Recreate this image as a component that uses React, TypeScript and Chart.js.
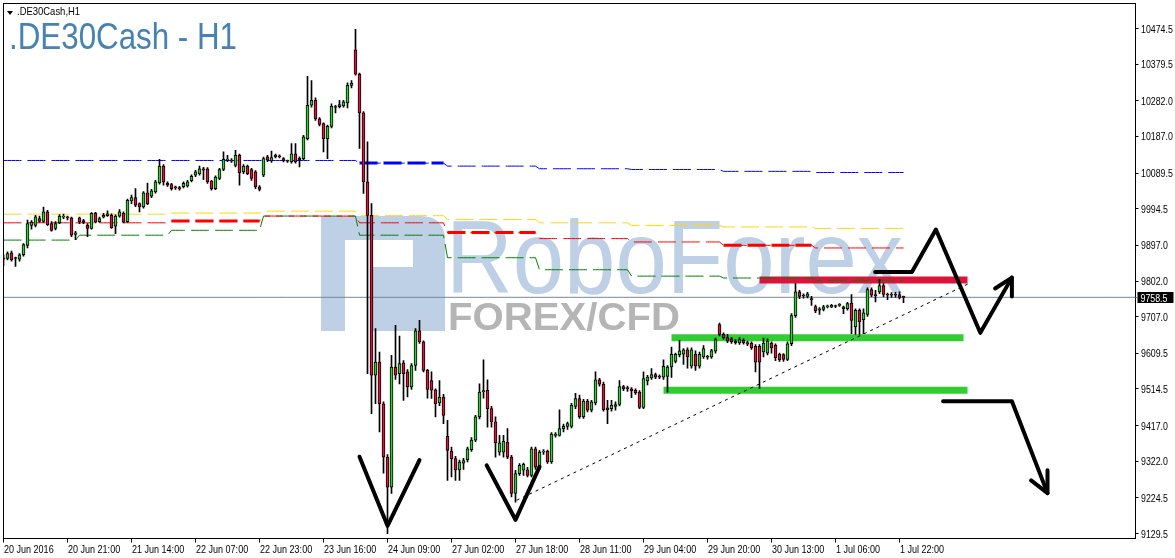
import { useEffect, useRef } from 'react';
import { Chart, registerables } from 'chart.js';

Chart.register(...registerables);

// ---------- data ----------
const opens = [
  9860, 9862, 9877, 9864, 9860, 9872, 9897, 9950, 9950, 9968,
  9961, 9986, 9955, 9942, 9957, 9972, 9971, 9970, 9926, 9970,
  9963, 9950, 9942, 9983, 9960, 9972, 9976, 9977, 9948, 9975,
  9983, 9960, 10015, 10024, 10008, 9999, 10037, 10028, 10039, 10063,
  10108, 10063, 10059, 10053, 10050, 10053, 10055, 10069, 10084, 10088,
  10101, 10101, 10068, 10048, 10075, 10099, 10124, 10124, 10110, 10137,
  10093, 10108, 10099, 10093, 10053, 10084, 10133, 10122, 10133, 10135,
  10128, 10122, 10119, 10141, 10129, 10128, 10181, 10270, 10283, 10234,
  10221, 10181, 10214, 10264, 10266, 10268, 10276, 10323, 10418, 10353,
  10250, 10066, 9977, 9551, 9586, 9475, 9333, 9253, 9573, 9555,
  9584, 9560, 9520, 9577, 9669, 9640, 9564, 9537, 9512, 9477,
  9493, 9388, 9349, 9329, 9299, 9317, 9326, 9353, 9378, 9440,
  9507, 9511, 9462, 9427, 9346, 9346, 9373, 9333, 9236, 9289,
  9298, 9299, 9284, 9355, 9304, 9346, 9349, 9320, 9391, 9391,
  9409, 9415, 9415, 9468, 9489, 9440, 9482, 9458, 9477, 9539,
  9527, 9464, 9462, 9468, 9473, 9521, 9518, 9515, 9511, 9506,
  9465, 9536, 9544, 9553, 9548, 9546, 9548, 9573, 9588, 9606,
  9607, 9619, 9575, 9607, 9575, 9600, 9600, 9600, 9615, 9686,
  9660, 9651, 9648, 9642, 9637, 9644, 9638, 9637, 9628, 9628,
  9613, 9610, 9637, 9631, 9607, 9606, 9593, 9635, 9710, 9773,
  9764, 9761, 9755, 9734, 9724, 9726, 9733, 9733, 9734, 9737,
  9733, 9728, 9743, 9680, 9724, 9699, 9713, 9779, 9764, 9773,
  9790, 9766, 9764, 9766, 9766, 9759,
];
const highs = [
  9872, 9880, 9882, 9866, 9875, 9902, 9964, 9963, 9977, 9975,
  9999, 9990, 9960, 9960, 9979, 9980, 9975, 9972, 9934, 9972,
  9966, 9955, 9984, 9985, 9972, 9982, 9989, 9981, 9978, 9992,
  9986, 10020, 10031, 10048, 10010, 10040, 10063, 10046, 10070, 10126,
  10112, 10066, 10062, 10055, 10054, 10066, 10070, 10085, 10097, 10108,
  10105, 10104, 10070, 10082, 10102, 10146, 10137, 10128, 10150, 10140,
  10112, 10111, 10102, 10096, 10056, 10132, 10137, 10148, 10140, 10138,
  10131, 10124, 10168, 10168, 10133, 10190, 10347, 10336, 10290, 10237,
  10223, 10217, 10274, 10270, 10283, 10283, 10330, 10336, 10472, 10356,
  10253, 10173, 10008, 9675, 9613, 9480, 9340, 9604, 9684, 9655,
  9590, 9566, 9582, 9675, 9697, 9643, 9567, 9560, 9515, 9537,
  9500, 9431, 9360, 9335, 9325, 9330, 9360, 9385, 9444, 9528,
  9592, 9539, 9468, 9440, 9391, 9391, 9409, 9338, 9298, 9316,
  9317, 9306, 9360, 9360, 9351, 9353, 9352, 9398, 9398, 9459,
  9421, 9426, 9476, 9503, 9498, 9487, 9487, 9484, 9560, 9543,
  9533, 9484, 9484, 9480, 9537, 9524, 9522, 9518, 9515, 9510,
  9560, 9551, 9569, 9557, 9552, 9592, 9577, 9626, 9610, 9644,
  9622, 9624, 9624, 9616, 9613, 9630, 9604, 9620, 9650, 9690,
  9664, 9660, 9652, 9646, 9651, 9648, 9642, 9640, 9633, 9633,
  9650, 9648, 9640, 9635, 9610, 9609, 9640, 9715, 9795, 9777,
  9768, 9772, 9761, 9738, 9731, 9737, 9738, 9740, 9738, 9742,
  9735, 9745, 9766, 9728, 9728, 9728, 9784, 9784, 9777, 9806,
  9795, 9770, 9771, 9772, 9773, 9762,
];
const lows = [
  9843, 9858, 9855, 9841, 9855, 9868, 9890, 9940, 9946, 9958,
  9958, 9950, 9935, 9938, 9955, 9968, 9965, 9920, 9912, 9955,
  9955, 9920, 9940, 9957, 9958, 9970, 9974, 9942, 9928, 9972,
  9957, 9958, 10008, 10000, 9986, 9996, 10005, 10024, 10036, 10060,
  10057, 10054, 10044, 10046, 10044, 10050, 10052, 10066, 10080, 10084,
  10072, 10062, 10044, 10045, 10072, 10096, 10120, 10118, 10106, 10057,
  10088, 10085, 10070, 10048, 10042, 10080, 10120, 10118, 10130, 10130,
  10119, 10118, 10116, 10116, 10106, 10125, 10178, 10265, 10230, 10215,
  10146, 10128, 10210, 10250, 10263, 10265, 10263, 10316, 10350, 10155,
  10035, 9555, 9449, 9475, 9400, 9290, 9129, 9236, 9540, 9528,
  9484, 9493, 9513, 9564, 9636, 9560, 9490, 9489, 9440, 9470,
  9422, 9271, 9280, 9271, 9271, 9300, 9320, 9348, 9374, 9435,
  9490, 9413, 9413, 9333, 9338, 9333, 9329, 9227, 9213, 9284,
  9284, 9280, 9280, 9300, 9300, 9340, 9316, 9316, 9386, 9389,
  9400, 9407, 9411, 9462, 9436, 9436, 9453, 9453, 9472, 9522,
  9455, 9422, 9455, 9458, 9469, 9510, 9508, 9491, 9500, 9462,
  9462, 9525, 9540, 9542, 9542, 9540, 9506, 9545, 9584, 9600,
  9580, 9570, 9570, 9564, 9570, 9596, 9594, 9596, 9610, 9656,
  9647, 9638, 9636, 9634, 9633, 9634, 9630, 9620, 9560, 9515,
  9600, 9605, 9610, 9590, 9588, 9588, 9590, 9630, 9705, 9755,
  9756, 9757, 9737, 9718, 9713, 9722, 9730, 9731, 9731, 9734,
  9715, 9724, 9662, 9660, 9660, 9662, 9708, 9760, 9746, 9768,
  9760, 9752, 9758, 9758, 9754, 9744,
];
const closes = [
  9864, 9875, 9859, 9862, 9872, 9899, 9955, 9959, 9973, 9961,
  9986, 9952, 9937, 9955, 9975, 9975, 9970, 9924, 9930, 9960,
  9958, 9942, 9982, 9959, 9968, 9977, 9981, 9944, 9975, 9986,
  9959, 10017, 10024, 10004, 9999, 10037, 10008, 10042, 10066, 10108,
  10066, 10057, 10048, 10050, 10048, 10062, 10066, 10081, 10093, 10101,
  10097, 10066, 10048, 10079, 10099, 10126, 10126, 10121, 10137, 10090,
  10108, 10088, 10075, 10053, 10046, 10128, 10124, 10131, 10137, 10133,
  10124, 10121, 10141, 10119, 10125, 10186, 10270, 10283, 10234, 10219,
  10181, 10214, 10267, 10266, 10272, 10279, 10323, 10329, 10353, 10250,
  10066, 9977, 9551, 9586, 9475, 9333, 9253, 9573, 9551, 9582,
  9555, 9520, 9577, 9669, 9640, 9564, 9513, 9511, 9475, 9493,
  9444, 9351, 9329, 9299, 9320, 9324, 9355, 9378, 9440, 9506,
  9510, 9462, 9427, 9371, 9371, 9375, 9333, 9236, 9289, 9311,
  9314, 9284, 9355, 9306, 9346, 9349, 9320, 9394, 9393, 9409,
  9415, 9422, 9471, 9489, 9440, 9482, 9458, 9480, 9539, 9527,
  9459, 9459, 9471, 9473, 9521, 9515, 9515, 9509, 9504, 9465,
  9542, 9546, 9553, 9546, 9546, 9575, 9573, 9607, 9607, 9616,
  9619, 9600, 9619, 9575, 9607, 9622, 9599, 9617, 9646, 9660,
  9651, 9642, 9640, 9637, 9646, 9637, 9634, 9624, 9586, 9586,
  9637, 9642, 9624, 9598, 9592, 9593, 9635, 9710, 9773, 9761,
  9762, 9768, 9752, 9722, 9728, 9733, 9735, 9737, 9735, 9739,
  9728, 9742, 9697, 9724, 9693, 9717, 9779, 9764, 9763, 9790,
  9766, 9764, 9766, 9764, 9758, 9758.5,
];

const xTickBars = [0, 16, 32, 48, 64, 80, 96, 112, 128, 144, 160, 176, 192, 208, 224];
const xTickLabels = [
  '20 Jun 2016', '20 Jun 21:00', '21 Jun 14:00', '22 Jun 07:00', '22 Jun 23:00',
  '23 Jun 16:00', '24 Jun 09:00', '27 Jun 02:00', '27 Jun 18:00', '28 Jun 11:00',
  '29 Jun 04:00', '29 Jun 20:00', '30 Jun 13:00', '1 Jul 06:00', '1 Jul 22:00',
];
const yTicks = [
  10474.5, 10379.5, 10282.0, 10187.0, 10089.5, 9994.5, 9897.0, 9802.0,
  9707.0, 9609.5, 9514.5, 9417.0, 9322.0, 9224.5, 9129.5,
];
const lastPrice = 9758.5;

// daily indicator levels (one value per trading day)
const dayStarts = [0, 19, 42, 65, 89, 111, 134, 157, 180, 203];
const blueLevels = [10123, 10123, 10123, 10123, 10116, 10108, 10101, 10099, 10094, 10091];
const yellowLevels = [9980, 9980, 9983, 9988, 9976, 9966, 9957, 9950, 9946, 9942];
const redLevels = [9957, 9957, 9962, 9975, 9957, 9931, 9915, 9906, 9897, 9890];
const greenLevels = [9911, 9924, 9937, 9975, 9924, 9864, 9832, 9815, 9810, 9804];
const thickBlueDays = [4];
const thickRedDays = [2, 5, 8];

// hand-drawn analysis objects: [bar, price]
const supportUpper = [[167, 9651], [240, 9651]];
const supportLower = [[165, 9511], [241, 9511]];
const resistance = [[189, 9805], [241, 9805]];
const trendLine = [[128.3, 9218], [241.3, 9795]];
const vLeft = [[89, 9334], [96, 9150], [104, 9325]];
const vRight = [[120.8, 9311], [128, 9166], [134, 9307]];
const zigzag = [[217.9, 9826], [227.1, 9826], [233.1, 9939], [244.2, 9664], [252.1, 9811]];
const zigzagHead = [[247.9, 9782], [252.1, 9811], [252.1, 9761]];
const dropPath = [[234.9, 9482], [252.1, 9482], [261, 9237]];
const dropHead = [[256.9, 9271], [261, 9237], [261, 9298]];

// ---------- styling ----------
const FONT = "'Liberation Sans', Arial, sans-serif";
const BULL = '#32CD32';
const BEAR = '#DC143C';
const Y_MAX = 10541.1;
const Y_MIN = 9116.2;
const X_MAX = 283;

const pts = (arr: number[][]) => arr.map(([x, y]) => ({ x, y }));

function levelSeries(levels: number[]) {
  const out: { x: number; y: number }[] = [];
  for (let i = 0; i < opens.length; i++) {
    let d = 0;
    while (d + 1 < dayStarts.length && dayStarts[d + 1] <= i) d++;
    out.push({ x: i, y: levels[d] });
  }
  return out;
}
function daySeries(levels: number[], d: number) {
  const end = d + 1 < dayStarts.length ? dayStarts[d + 1] - 1 : opens.length - 1;
  const out: { x: number; y: number }[] = [];
  for (let i = dayStarts[d]; i <= end; i++) out.push({ x: i, y: levels[d] });
  return out;
}

const lineDS = (data: any[], color: string, width: number, dash: number[], order: number, extra: any = {}) => ({
  type: 'line' as const,
  data,
  borderColor: color,
  backgroundColor: color,
  borderWidth: width,
  borderDash: dash,
  pointRadius: 0,
  pointHoverRadius: 0,
  fill: false,
  tension: 0,
  order,
  ...extra,
});

function narrowText(ctx: CanvasRenderingContext2D, text: string, x: number, y: number, sx: number) {
  ctx.save();
  ctx.translate(x, y);
  ctx.scale(sx, 1);
  ctx.fillText(text, 0, 0);
  ctx.restore();
}

const watermarkPlugin = {
  id: 'watermark',
  beforeDatasetsDraw(chart: any) {
    const ctx = chart.ctx as CanvasRenderingContext2D;
    ctx.save();
    const blue = '#bdd0e5';
    ctx.fillStyle = blue;
    ctx.beginPath();
    ctx.moveTo(321, 216);
    ctx.lineTo(420, 216);
    ctx.quadraticCurveTo(445, 216, 445, 241);
    ctx.lineTo(445, 331);
    ctx.lineTo(321, 331);
    ctx.closePath();
    ctx.fill();
    ctx.fillStyle = '#ffffff';
    ctx.fillRect(345, 240, 68, 27);
    ctx.fillRect(345, 267, 27, 64);
    ctx.fillStyle = blue;
    ctx.font = "104px 'Liberation Sans', Arial, sans-serif";
    ctx.textBaseline = 'alphabetic';
    let t = 'RoboForex';
    let w = ctx.measureText(t).width;
    narrowText(ctx, t, 446, 293, 457 / w);
    ctx.fillStyle = '#b5b5b5';
    ctx.font = "bold 39px 'Liberation Sans', Arial, sans-serif";
    t = 'FOREX/CFD';
    w = ctx.measureText(t).width;
    narrowText(ctx, t, 448, 330, 232 / w);
    ctx.restore();
  },
};

const framePlugin = {
  id: 'frame',
  afterDatasetsDraw(chart: any) {
    const { ctx, chartArea: a } = chart;
    ctx.save();
    ctx.strokeStyle = '#000';
    ctx.lineWidth = 1;
    ctx.strokeRect(a.left, a.top, a.right - a.left, a.bottom - a.top);
    ctx.restore();
  },
};

const axisLabelPlugin = {
  id: 'axisLabels',
  afterDraw(chart: any) {
    const ctx = chart.ctx as CanvasRenderingContext2D;
    const xs = chart.scales.x;
    const ys = chart.scales.y;
    const a = chart.chartArea;
    ctx.save();
    ctx.fillStyle = '#000';
    ctx.font = `11px ${FONT}`;
    ctx.textBaseline = 'alphabetic';
    ctx.textAlign = 'left';
    xTickBars.forEach((b, k) => {
      narrowText(ctx, xTickLabels[k], xs.getPixelForValue(b) + 0.5, 553, 0.82);
    });
    yTicks.forEach((v) => {
      narrowText(ctx, v.toFixed(1), a.right + 5.5, ys.getPixelForValue(v) + 4, 0.8);
    });
    ctx.restore();
  },
};

const priceLabelPlugin = {
  id: 'priceLabel',
  afterDraw(chart: any) {
    const ctx = chart.ctx as CanvasRenderingContext2D;
    const a = chart.chartArea;
    const y = chart.scales.y.getPixelForValue(lastPrice);
    const yy = Math.round(y);
    ctx.save();
    ctx.strokeStyle = '#778899';
    ctx.lineWidth = 1;
    ctx.beginPath();
    ctx.moveTo(a.right, yy + 0.5);
    ctx.lineTo(a.right + 2, yy + 0.5);
    ctx.stroke();
    ctx.fillStyle = '#000';
    ctx.fillRect(a.right + 2, yy - 5, 36, 11);
    ctx.fillStyle = '#fff';
    ctx.font = `11px ${FONT}`;
    ctx.textBaseline = 'alphabetic';
    ctx.textAlign = 'left';
    narrowText(ctx, lastPrice.toFixed(1), a.right + 5, yy + 4.5, 0.8);
    ctx.restore();
  },
};

export default function App() {
  const ref = useRef<HTMLCanvasElement>(null);

  useEffect(() => {
    const canvas = ref.current;
    if (!canvas) return;

    const wicks = opens.map((_, i) => ({ x: i, y: [lows[i], highs[i]] }));
    const bodies = opens.map((o, i) => ({ x: i, y: [o, closes[i]] }));
    const bodyColors = opens.map((o, i) => (closes[i] >= o ? BULL : BEAR));
    const arrowStyle = { borderJoinStyle: 'round', borderCapStyle: 'round' };

    const datasets: any[] = [
      lineDS([{ x: 0, y: lastPrice }, { x: X_MAX, y: lastPrice }], '#778899', 1, [], 100),
      lineDS(pts(supportUpper), BULL, 7, [], 96, { borderCapStyle: 'butt' }),
      lineDS(pts(supportLower), BULL, 7, [], 96, { borderCapStyle: 'butt' }),
      lineDS(pts(resistance), BEAR, 7, [], 96, { borderCapStyle: 'butt' }),
      lineDS(levelSeries(blueLevels), '#0000ff', 1, [18, 6], 90),
      lineDS(levelSeries(yellowLevels), '#ffd700', 1, [18, 6], 90),
      lineDS(levelSeries(redLevels), '#ff0000', 1, [18, 6], 90),
      lineDS(levelSeries(greenLevels), '#008000', 1, [18, 6], 90),
      ...thickBlueDays.map((d) => lineDS(daySeries(blueLevels, d), '#0000ff', 3, [18, 6], 88)),
      ...thickRedDays.map((d) => lineDS(daySeries(redLevels, d), '#ff0000', 3, [18, 6], 88)),
      {
        type: 'bar',
        data: wicks,
        backgroundColor: '#000',
        borderWidth: 0,
        barThickness: 1,
        grouped: false,
        order: 50,
      },
      {
        type: 'bar',
        data: bodies,
        backgroundColor: bodyColors,
        borderColor: '#000',
        borderWidth: 1,
        borderSkipped: false,
        barThickness: 3,
        minBarLength: 1,
        grouped: false,
        order: 40,
      },
      lineDS(pts(trendLine), '#000', 1, [3, 4], 20),
      lineDS(pts(vLeft), '#000', 4, [], 10, arrowStyle),
      lineDS(pts(vRight), '#000', 4, [], 10, arrowStyle),
      lineDS(pts(zigzag), '#000', 4, [], 10, arrowStyle),
      lineDS(pts(zigzagHead), '#000', 4, [], 10, arrowStyle),
      lineDS(pts(dropPath), '#000', 4, [], 10, arrowStyle),
      lineDS(pts(dropHead), '#000', 4, [], 10, arrowStyle),
    ];

    const chart = new Chart(canvas, {
      type: 'bar',
      data: { datasets },
      options: {
        animation: false,
        responsive: false,
        maintainAspectRatio: false,
        devicePixelRatio: 1,
        events: [],
        layout: { padding: { left: 3.5, top: 3.5, right: 0, bottom: 0 } },
        plugins: { legend: { display: false }, tooltip: { enabled: false }, title: { display: false } },
        scales: {
          x: {
            type: 'linear',
            position: 'bottom',
            min: 0,
            max: X_MAX,
            offset: false,
            afterBuildTicks: (s: any) => {
              s.ticks = xTickBars.map((v) => ({ value: v }));
            },
            afterFit: (s: any) => {
              s.height = 19.5;
              s.paddingLeft = 0;
              s.paddingRight = 0;
            },
            ticks: { display: false, autoSkip: false, maxRotation: 0, minRotation: 0 },
            grid: { display: true, offset: false, drawOnChartArea: false, drawTicks: true, tickLength: 4, tickColor: '#000', tickWidth: 1, color: '#000' },
            border: { display: true, color: '#000', width: 1 },
          },
          y: {
            type: 'linear',
            position: 'right',
            min: Y_MIN,
            max: Y_MAX,
            afterBuildTicks: (s: any) => {
              s.ticks = yTicks.map((v) => ({ value: v }));
            },
            afterFit: (s: any) => {
              s.width = 39.5;
              s.paddingTop = 0;
              s.paddingBottom = 0;
            },
            ticks: { display: false, autoSkip: false },
            grid: { display: true, drawOnChartArea: false, drawTicks: true, tickLength: 3, tickColor: '#000', tickWidth: 1, color: '#000' },
            border: { display: true, color: '#000', width: 1 },
          },
        },
      } as any,
      plugins: [watermarkPlugin, framePlugin, axisLabelPlugin, priceLabelPlugin],
    });
    return () => chart.destroy();
  }, []);

  return (
    <div style={{ position: 'fixed', left: 0, top: 0, width: 1175, height: 558, background: '#fff', overflow: 'hidden' }}>
      <canvas ref={ref} width={1175} height={558} style={{ display: 'block', width: 1175, height: 558 }} />
      <div
        style={{
          position: 'absolute', left: 7, top: 11, width: 0, height: 0,
          borderLeft: '3px solid transparent', borderRight: '3px solid transparent', borderTop: '4px solid #000',
        }}
      />
      <div
        style={{
          position: 'absolute', left: 17, top: 6.4, font: `11px ${FONT}`, lineHeight: '11px', color: '#000',
          whiteSpace: 'nowrap', transform: 'scaleX(0.86)', transformOrigin: '0 0',
        }}
      >
        .DE30Cash,H1
      </div>
      <div
        style={{
          position: 'absolute', left: 9, top: 18.5, font: `36px ${FONT}`, lineHeight: '36px', color: '#4682B4',
          whiteSpace: 'nowrap', transform: 'scaleX(0.87)', transformOrigin: '0 0',
        }}
      >
        .DE30Cash - H1
      </div>
    </div>
  );
}
